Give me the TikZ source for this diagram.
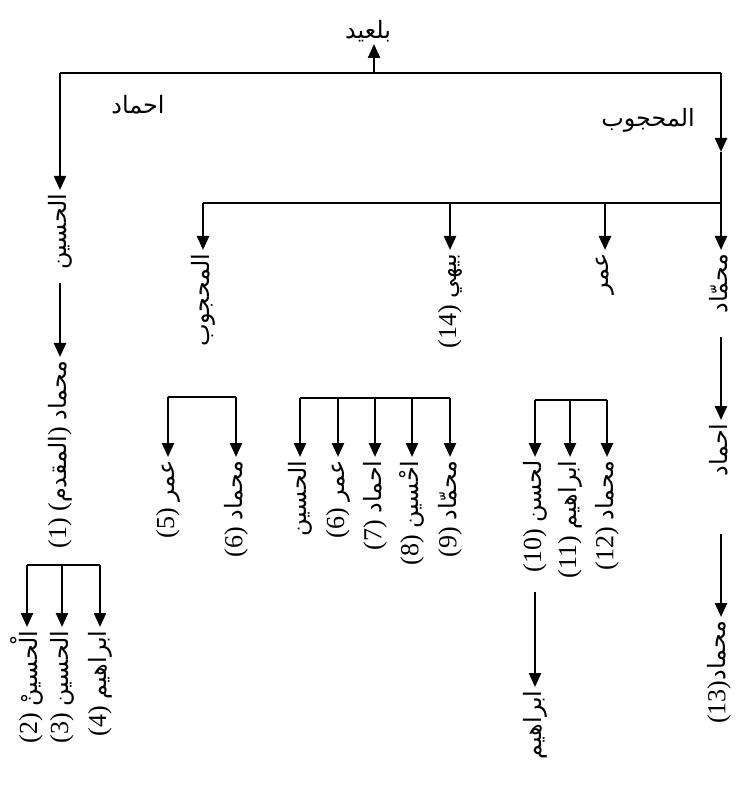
\documentclass[tikz,border=0pt]{standalone}
\usepackage{fontspec}
\setmainfont{Liberation Serif}
\newfontfamily\arabicfont[Script=Arabic,Scale=0.92]{DejaVu Sans}
\TeXXeTstate=1
\newcommand{\arb}[1]{{\arabicfont\beginR #1\endR}}
\usetikzlibrary{arrows.meta}

\begin{document}
\begin{tikzpicture}[x=0.5pt, y=-0.5pt,
    lbl/.style={rotate=90, anchor=east, inner sep=1.5pt, font=\fontsize{13}{15}\selectfont},
    hlbl/.style={inner sep=1pt, font=\fontsize{13}{15}\selectfont},
    line/.style={line width=1.2pt},
    arrow/.style={line width=1.2pt, -{Triangle[length=7pt, width=6pt]}}
  ]
  \useasboundingbox (0,0) rectangle (737,785);

  % top generation
  \node[hlbl, anchor=south] (root) at (368,44) {\arb{بلعيد}};
  \coordinate (tl) at (60,73);
  \coordinate (tc) at (374,73);
  \coordinate (tr) at (721,73);
  \draw[line] (tl) -- (tr);
  \draw[arrow] (tc) -- (tc |- root.south);
  \node[hlbl] (ahmad) at (138,105) {\arb{احماد}};
  \node[hlbl] (mahjub) at (648,120) {\arb{المحجوب}};

  % left line
  \node[lbl] (husain) at (60,190) {\arb{الحسين}};
  \draw[arrow] (tl) -- (husain.east);
  \node[lbl] (mhd1) at (60,357) {(1) (\arb{المقدم}) \arb{محماد}};
  \draw[arrow, shorten <=5pt] (husain.west) -- (mhd1.east);
  \coordinate (ba) at (27,565);
  \coordinate (bb) at (62,565);
  \coordinate (bc) at (100,565);
  \draw[line] (ba) -- (bc);
  \node[lbl] (hus2) at (27,627) {(2) \arb{الْحسينْ}};
  \node[lbl] (hus3) at (62,627) {(3) \arb{الحسين}};
  \node[lbl] (ibr4) at (100,627) {(4) \arb{ابراهيم}};
  \draw[arrow] (ba) -- (hus2.east);
  \draw[arrow] (bb) -- (hus3.east);
  \draw[arrow] (bc) -- (ibr4.east);

  % right line
  \coordinate (trm) at (721,152);
  \coordinate (jr) at (721,203);
  \coordinate (jm) at (203,203);
  \coordinate (jb) at (450,203);
  \coordinate (ju) at (605,203);
  \draw[arrow] (tr) -- (trm);
  \draw[line] (trm) -- (jr);
  \draw[line] (jm) -- (jr);
  \node[lbl] (mahjub2) at (203,250) {\arb{المحجوب}};
  \node[lbl] (bayhi) at (450,250) {(14) \arb{بيهي}};
  \node[lbl] (umar) at (605,250) {\arb{عمر}};
  \node[lbl] (mhd) at (719,250) {\arb{محمّاد}};
  \draw[arrow] (jm) -- (mahjub2.east);
  \draw[arrow] (jb) -- (bayhi.east);
  \draw[arrow] (ju) -- (umar.east);
  \draw[arrow] (jr) -- (jr |- mhd.east);

  % children of al-mahjub
  \coordinate (ma) at (168,397);
  \coordinate (mb) at (236,397);
  \draw[line] (ma) -- (mb);
  \node[lbl] (umar5) at (168,457) {(5) \arb{عمر}};
  \node[lbl] (mhd6) at (236,457) {(6) \arb{محماد}};
  \draw[arrow] (ma) -- (umar5.east);
  \draw[arrow] (mb) -- (mhd6.east);

  % children of bayhi
  \coordinate (ya) at (300,398);
  \coordinate (yb) at (338,398);
  \coordinate (yc) at (375,398);
  \coordinate (yd) at (412,398);
  \coordinate (ye) at (450,398);
  \draw[line] (ya) -- (ye);
  \node[lbl] (husy) at (300,457) {\arb{الحسين}};
  \node[lbl] (umar6) at (338,457) {(6) \arb{عمر}};
  \node[lbl] (ahmad7) at (375,457) {(7) \arb{احماد}};
  \node[lbl] (hus8) at (412,457) {(8) \arb{احْسين}};
  \node[lbl] (mhd9) at (450,457) {(9) \arb{محمّاد}};
  \draw[arrow] (ya) -- (husy.east);
  \draw[arrow] (yb) -- (umar6.east);
  \draw[arrow] (yc) -- (ahmad7.east);
  \draw[arrow] (yd) -- (hus8.east);
  \draw[arrow] (ye) -- (mhd9.east);

  % children of umar
  \coordinate (ua) at (535,400);
  \coordinate (ub) at (570,400);
  \coordinate (uc) at (607,400);
  \draw[line] (ua) -- (uc);
  \node[lbl] (hasan10) at (535,457) {(10) \arb{لحسن}};
  \node[lbl] (ibr11) at (570,457) {(11) \arb{ابراهيم}};
  \node[lbl] (mhd12) at (607,457) {(12) \arb{محماد}};
  \draw[arrow] (ua) -- (hasan10.east);
  \draw[arrow] (ub) -- (ibr11.east);
  \draw[arrow] (uc) -- (mhd12.east);
  \node[lbl] (ibr) at (535,687) {\arb{ابراهيم}};
  \draw[arrow, shorten <=8pt] (hasan10.west) -- (ibr.east);

  % children of muhammad
  \node[lbl] (ahmad2) at (719,420) {\arb{احماد}};
  \draw[arrow, shorten <=10pt] (jr |- mhd.west) -- (jr |- ahmad2.east);
  \node[lbl] (mhd13) at (719,617) {(13)\arb{محماد}};
  \draw[arrow, shorten <=27pt] (jr |- ahmad2.west) -- (jr |- mhd13.east);
\end{tikzpicture}
\end{document}
